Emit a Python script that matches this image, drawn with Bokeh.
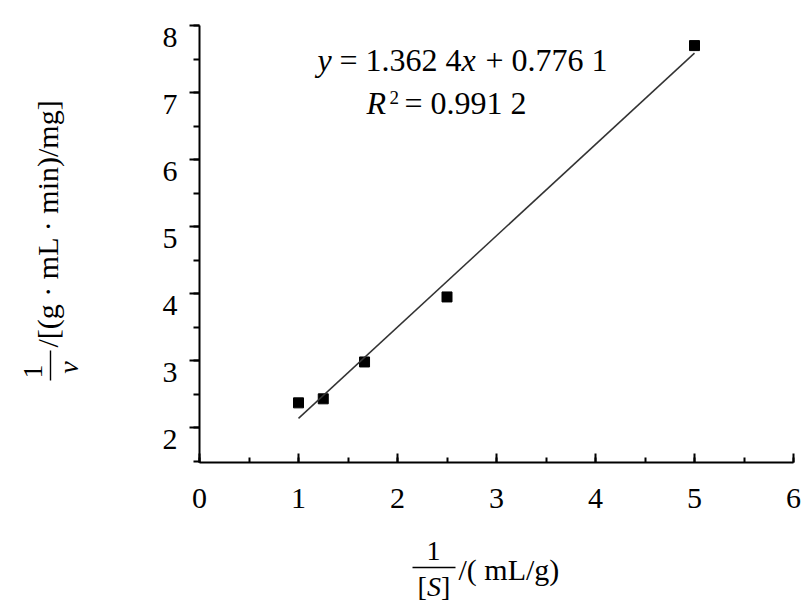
from bokeh.plotting import figure
from bokeh.models import (Range1d, SingleIntervalTicker, FixedTicker, Label,
                          BoxAnnotation, LinearAxis)
from bokeh.layouts import row, column
from bokeh.embed import file_html
from bokeh.resources import INLINE
import numpy as np

# ---- data ----
inv_S = [1.0, 1.25, 1.667, 2.5, 5.0]          # 1/[S] (mL/g)
inv_v = [2.37, 2.43, 2.98, 3.95, 7.70]        # 1/v
slope = 1.3624
intercept = 0.7761
x_ticks = [0, 1, 2, 3, 4, 5, 6]
y_ticks = [2, 3, 4, 5, 6, 7, 8]

FONT = "Liberation Serif"
Y0, Y1 = 1.48, 8.0

def blank_fig(w, h, left=0, right=0):
    f = figure(width=w, height=h, output_backend="svg", toolbar_location=None,
               x_range=Range1d(0, 1), y_range=Range1d(0, 1),
               x_axis_type=None, y_axis_type=None,
               min_border_left=left, min_border_right=right,
               min_border_top=0, min_border_bottom=0)
    f.outline_line_color = None
    f.grid.visible = False
    return f

def lab(f, text, sx, sy, size=30, style="normal", align="left", angle=0.0):
    # shift so that sx/sy is the real alphabetic baseline
    d = 0.38 * size
    if angle:
        sx = sx - d
    else:
        sy = sy + d
    f.add_layout(Label(x=sx, y=sy, x_units="screen", y_units="screen",
                       text=text, text_font=FONT, text_font_size=f"{size}px",
                       text_font_style=style, text_align=align,
                       text_baseline="alphabetic", angle=angle,
                       text_color="black"))

def bar(f, left, right, bottom, top):
    f.add_layout(BoxAnnotation(left=left, right=right, bottom=bottom, top=top,
                               left_units="screen", right_units="screen",
                               bottom_units="screen", top_units="screen",
                               fill_color="black", fill_alpha=1.0,
                               line_color=None))

# ---------------- main plot ----------------
p = figure(width=660, height=530, output_backend="svg", toolbar_location=None,
           x_range=Range1d(0, 6), y_range=Range1d(Y0, Y1),
           min_border_left=49, min_border_right=17,
           min_border_top=25, min_border_bottom=68)
p.outline_line_color = None
p.grid.visible = False

xa = p.xaxis[0]
xa.ticker = SingleIntervalTicker(interval=1, num_minor_ticks=2)
xa.axis_line_width = 2
xa.major_tick_line_width = 2
xa.minor_tick_line_width = 2
xa.major_tick_in = 9
xa.major_tick_out = 0
xa.minor_tick_in = 5
xa.minor_tick_out = 0
xa.major_label_text_font = FONT
xa.major_label_text_font_size = "30px"
xa.major_label_text_color = "black"
xa.major_label_standoff = 26

ya = p.yaxis[0]
ya.ticker = SingleIntervalTicker(interval=1, num_minor_ticks=2)
ya.axis_line_width = 2
ya.major_tick_line_width = 2
ya.minor_tick_line_width = 2
ya.major_tick_in = 0
ya.major_tick_out = 10
ya.minor_tick_in = 0
ya.minor_tick_out = 6
ya.major_label_text_font_size = "0px"
ya.major_label_text_color = None
ya.major_label_standoff = 0

# tick labels sit just below their ticks: second axis on a shifted range
shift = 11.5 / (437.0 / (Y1 - Y0))
p.extra_y_ranges = {"lab": Range1d(Y0 + shift, Y1 + shift)}
ya2 = LinearAxis(y_range_name="lab", ticker=FixedTicker(ticks=y_ticks))
ya2.axis_line_color = None
ya2.major_tick_line_color = None
ya2.minor_tick_line_color = None
ya2.major_tick_in = 0
ya2.major_tick_out = 0
ya2.minor_tick_in = 0
ya2.minor_tick_out = 0
ya2.major_label_standoff = 12
ya2.major_label_text_font = FONT
ya2.major_label_text_font_size = "30px"
ya2.major_label_text_color = "black"
p.add_layout(ya2, "left")

p.scatter(inv_S, inv_v, marker="square", size=10, color="black")
fx = np.array([min(inv_S), max(inv_S)])
p.line(fx, slope * fx + intercept, line_width=1.5, color="#333333")

# equation text (screen coords from frame left / bottom)
lab(p, "y", 118, 390, size=32, style="italic")
lab(p, "= 1.362 4", 140, 390, size=32)
lab(p, "x", 262, 390, size=32, style="italic")
lab(p, "+ 0.776 1", 286, 390, size=32)
lab(p, "R", 167, 347, size=32, style="italic")
lab(p, "2", 190, 358, size=19)
lab(p, "= 0.991 2", 205, 347, size=32)

# ---------------- x axis title ----------------
B = blank_fig(660, 76, left=49, right=17)   # frame X 199..793, Y 530..606
lab(B, "1", 234, 45, size=28, align="center")
bar(B, 213, 256, 38.3, 39.7)
lab(B, "[", 218, 9, size=28)
lab(B, "S", 227.5, 9, size=28, style="italic")
lab(B, "]", 241.5, 9, size=28)
lab(B, "/( mL/g)", 259, 26, size=30)

# ---------------- y axis title ----------------
L = blank_fig(150, 606)  # covers X 0..150, Y 0..606
ang = np.pi / 2
lab(L, "1", 43, 235, size=28, align="center", angle=ang)
bar(L, 49.3, 50.7, 226, 256)
lab(L, "v", 79, 239, size=28, style="italic", align="center", angle=ang)
lab(L, "/[(g · mL · min)/mg]", 58, 259, size=30, angle=ang)

layout = row(L, column(p, B, spacing=0), spacing=0)
open("out.html", "w").write(file_html(layout, INLINE))
